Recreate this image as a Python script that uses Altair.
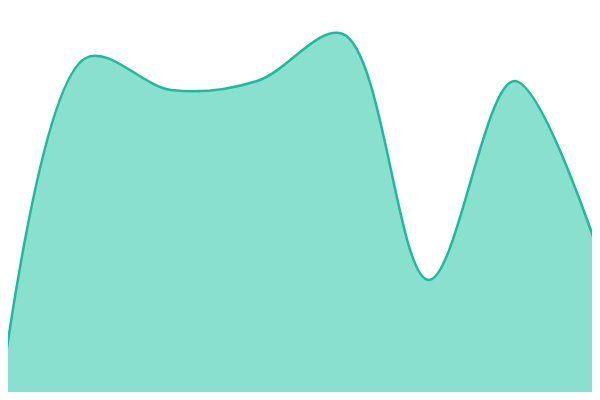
import altair as alt
import pandas as pd

# Data: 8 evenly spaced points, values on a 0-100 scale
steps = [0, 1, 2, 3, 4, 5, 6, 7]
values = [0, 85.5, 77.5, 79.75, 91.5, 30.0, 79.75, 35.75]

df = pd.DataFrame({"step": steps, "value": values})

# The page has an 8px margin; show the region that matches the reference frame
x_scale = alt.Scale(domain=[8 * 7 / 600, 592 * 7 / 600], nice=False, zero=False)
y_scale = alt.Scale(domain=[2, 98], nice=False, zero=False)

base = alt.Chart(df).encode(
    x=alt.X("step:Q", scale=x_scale, axis=None),
    y=alt.Y("value:Q", scale=y_scale, axis=None),
)

area = base.mark_area(interpolate="catmull-rom", color="#8ae0cf", opacity=1, clip=True)
line = base.mark_line(interpolate="catmull-rom", color="#1abc9c", strokeWidth=2.5, clip=True)

chart = (
    alt.layer(area, line)
    .properties(width=584, height=384, padding=0, autosize=alt.AutoSizeParams(type="none"))
    .configure_view(stroke=None)
)

chart.save("out.html", embed_options={"renderer": "svg", "actions": False})
